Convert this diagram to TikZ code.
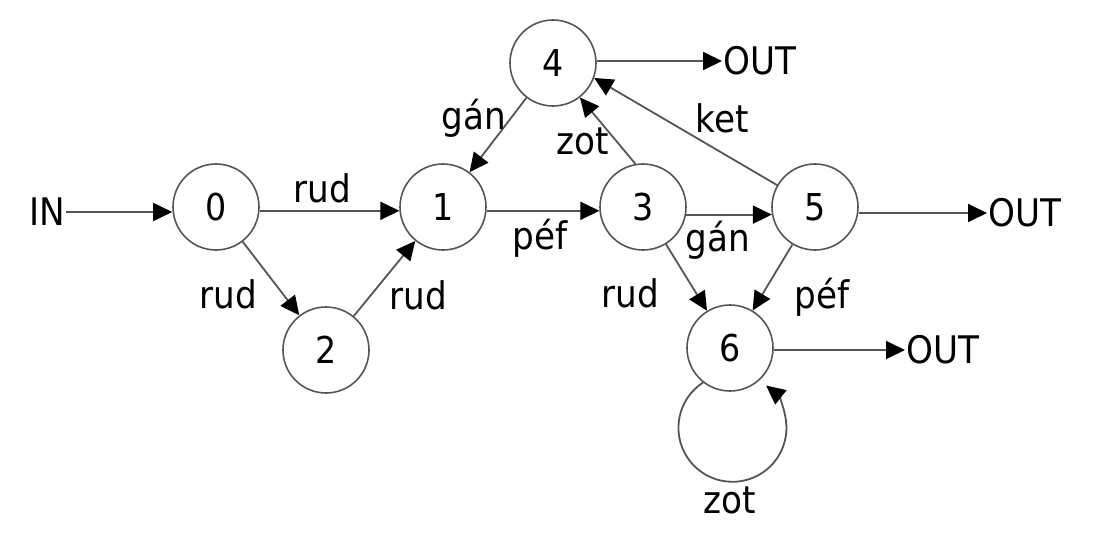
\documentclass[tikz,border=0pt]{standalone}
\usepackage{fontspec}
\setmainfont{DejaVu Sans Condensed}
\usetikzlibrary{arrows.meta}
\definecolor{linegray}{HTML}{555555}
\begin{document}
\begin{tikzpicture}[x=1pt,y=1pt,
  state/.style={circle,draw=linegray,line width=1.6pt,minimum size=86pt,inner sep=0pt,font=\fontsize{37}{40}\selectfont},
  lbl/.style={font=\fontsize{38}{40}\selectfont,inner sep=0pt},
  term/.style={font=\fontsize{38}{40}\selectfont,inner sep=1pt},
  conn/.style={draw=linegray,line width=1.8pt,-{Triangle[length=19pt,width=18pt,color=black]}}]
\useasboundingbox (0,0) rectangle (1095,-538);
\node[state] (n0) at (216,-207) {0};
\node[state] (n1) at (443,-207) {1};
\node[state] (n2) at (326,-350) {2};
\node[state] (n3) at (643,-207) {3};
\node[state] (n4) at (553,-63) {4};
\node[state] (n5) at (815,-207) {5};
\node[state] (n6) at (730,-348) {6};
\node[term,anchor=east] (in) at (66,-212) {IN};
\node[term,anchor=west] (o4) at (722,-61) {OUT};
\node[term,anchor=west] (o5) at (987,-213) {OUT};
\node[term,anchor=west] (o6) at (905,-350) {OUT};
\draw[conn] (in.east) -- (n0.west |- in.east);
\draw[conn] (n0.-5) -- (n1.-175);
\draw[conn] (n0) -- (n2);
\draw[conn] (n2) -- (n1);
\draw[conn] (n1.-5) -- (n3.-175);
\draw[conn] (n3.-10) -- (n5.-170);
\draw[conn] (n4) -- (n1);
\draw[conn] (n3.100) -- (n4.-52);
\draw[conn] (n5.150) -- (n4.-20);
\draw[conn] (n3) -- (n6);
\draw[conn] (n5) -- (n6);
\draw[conn] (n4.east |- o4.west) -- (o4.west);
\draw[conn] (n5.east |- o5.west) -- (o5.west);
\draw[conn] (n6.east |- o6.west) -- (o6.west);
\draw[conn] (n6.232) arc[start angle=123,end angle=411.5,radius=54];
\node[lbl] (l01) at (322,-188) {rud};
\node[lbl] (l02) at (228,-294) {rud};
\node[lbl] (l21) at (418,-295) {rud};
\node[lbl] (l13) at (540,-238) {péf};
\node[lbl] (l35) at (718,-240) {gán};
\node[lbl] (l34) at (583,-141) {zot};
\node[lbl] (l41) at (474,-118) {gán};
\node[lbl] (l54) at (722,-118) {ket};
\node[lbl] (l36) at (630,-293) {rud};
\node[lbl] (l56) at (822,-297) {péf};
\node[lbl] (l66) at (730,-500) {zot};
\end{tikzpicture}
\end{document}
